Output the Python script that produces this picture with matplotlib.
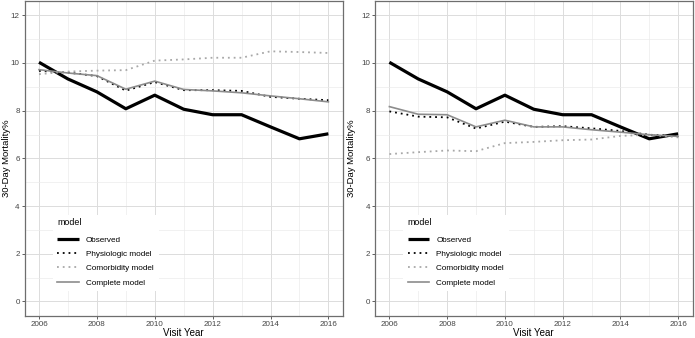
import matplotlib

matplotlib.use("Agg")
import matplotlib.pyplot as plt
from matplotlib.ticker import MultipleLocator

plt.rcParams["font.family"] = ["Liberation Sans", "DejaVu Sans"]

years = [2006, 2007, 2008, 2009, 2010, 2011, 2012, 2013, 2014, 2015, 2016]

observed = [10.03, 9.33, 8.79, 8.08, 8.65, 8.06, 7.83, 7.83, 7.32, 6.82, 7.03]

# left panel
physio_left = [9.67, 9.60, 9.45, 8.84, 9.20, 8.86, 8.86, 8.83, 8.58, 8.50, 8.44]
comorb_left = [9.53, 9.64, 9.68, 9.70, 10.10, 10.15, 10.22, 10.22, 10.49, 10.46, 10.42]
complete_left = [9.72, 9.58, 9.47, 8.90, 9.24, 8.89, 8.83, 8.75, 8.62, 8.50, 8.37]

# right panel
physio_right = [7.97, 7.75, 7.72, 7.25, 7.54, 7.32, 7.35, 7.26, 7.15, 6.99, 6.94]
comorb_right = [6.18, 6.26, 6.33, 6.30, 6.64, 6.69, 6.76, 6.79, 6.94, 6.99, 6.88]
complete_right = [8.17, 7.85, 7.83, 7.32, 7.60, 7.32, 7.32, 7.20, 7.10, 6.99, 6.92]

labels = ["Observed", "Physiologic model", "Comorbidity model", "Complete model"]


def draw_panel(ax, physio, comorb, complete, ylab_x):
    ax.plot(years, observed, color="black", lw=2.3, solid_capstyle="butt", label=labels[0])
    ax.plot(years, physio, color="black", lw=1.3, ls=(0, (1, 2.2)), label=labels[1])
    ax.plot(years, comorb, color="#a8a8a8", lw=1.3, ls=(0, (1, 2.2)), label=labels[2])
    ax.plot(years, complete, color="#8c8c8c", lw=1.2, label=labels[3])

    ax.set_xlim(2005.5, 2016.5)
    ax.set_ylim(-0.6, 12.6)
    ax.xaxis.set_major_locator(MultipleLocator(2))
    ax.xaxis.set_minor_locator(MultipleLocator(1))
    ax.yaxis.set_major_locator(MultipleLocator(2))
    ax.yaxis.set_minor_locator(MultipleLocator(1))
    ax.grid(True, which="major", color="#dcdcdc", lw=0.7)
    ax.grid(True, which="minor", color="#ebebeb", lw=0.5)
    ax.set_axisbelow(True)
    ax.tick_params(which="major", length=2, width=0.6, color="#444444",
                   labelsize=5.8, labelcolor="#444444", pad=1.5)
    ax.tick_params(which="minor", length=0)
    for s in ax.spines.values():
        s.set_color("#6e6e6e")
        s.set_linewidth(0.9)
    ax.set_xlabel("Visit Year", fontsize=7, labelpad=0.5)
    ax.set_ylabel("30-Day Mortality%", fontsize=6.8)
    ax.yaxis.set_label_coords(ylab_x, 0.5)

    leg = ax.legend(loc="lower left", bbox_to_anchor=(0.075, 0.064), title="model",
                    fontsize=5.9, title_fontsize=6.4, frameon=True, fancybox=False,
                    handlelength=2.6, handletextpad=0.9, labelspacing=0.8,
                    borderpad=0.6, alignment="left")
    leg.get_frame().set_facecolor("white")
    leg.get_frame().set_edgecolor("none")
    leg.get_frame().set_alpha(1)
    leg.get_title().set_position((0, 2))


fig = plt.figure(figsize=(6.95, 3.38), dpi=100)
ax1 = fig.add_axes([0.0353, 0.066, 0.458, 0.931])
ax2 = fig.add_axes([0.5395, 0.066, 0.457, 0.931])

draw_panel(ax1, physio_left, comorb_left, complete_left, -0.042)
draw_panel(ax2, physio_right, comorb_right, complete_right, -0.06)

fig.savefig("out.png", dpi=100)
